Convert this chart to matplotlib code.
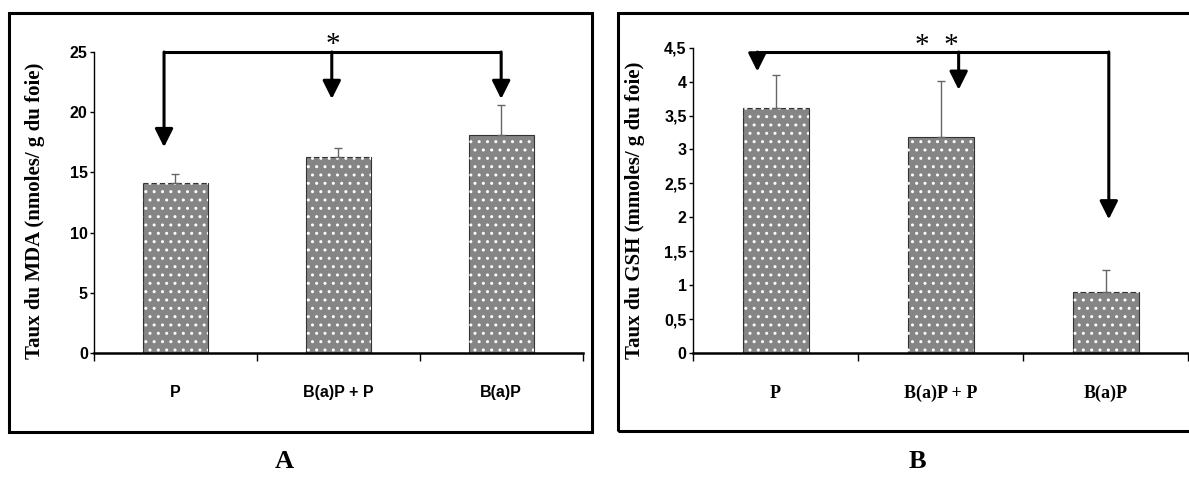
import matplotlib
matplotlib.use("Agg")
import matplotlib.pyplot as plt
import matplotlib.patches as mpatches

# Data
categories = ["P", "B(a)P + P", "B(a)P"]
mda_values = [14.1, 16.3, 18.1]
mda_errors = [0.8, 0.7, 2.5]
gsh_values = [3.61, 3.18, 0.90]
gsh_errors = [0.49, 0.83, 0.33]

mda_ticks = [0, 5, 10, 15, 20, 25]
mda_ticklabels = ["0", "5", "10", "15", "20", "25"]
gsh_ticks = [0, 0.5, 1, 1.5, 2, 2.5, 3, 3.5, 4, 4.5]
gsh_ticklabels = ["0", "0,5", "1", "1,5", "2", "2,5", "3", "3,5", "4", "4,5"]

# significance brackets: arrow x positions, arrow tip heights, bracket level
mda_arrow_x = [-0.07, 0.96, 2.0]
mda_arrow_tip = [17.1, 21.1, 21.1]
mda_bracket_y = 25.0
gsh_arrow_x = [-0.11, 1.11, 2.02]
gsh_arrow_tip = [4.15, 3.88, 1.97]
gsh_bracket_y = 4.436

NARROW = ["Liberation Sans Narrow", "Liberation Sans", "DejaVu Sans"]
SERIF = ["Liberation Serif", "DejaVu Serif"]
BAR_GRAY = "#858585"

W, H = 1189, 480
fig = plt.figure(figsize=(W / 100, H / 100), dpi=100)


def px_axes(left, right, top, bottom):
    return fig.add_axes([left / W, 1 - bottom / H, (right - left) / W, (bottom - top) / H])


def draw_panel(ax, values, errors, ymax, ticks, ticklabels, ylabel, xfont, xsize,
               arrow_x, arrow_tip, bracket_y, star, star_xy, label_xy):
    x = list(range(len(categories)))
    ax.bar(x, values, width=0.4, color=BAR_GRAY, edgecolor="#333333",
           linewidth=0.8, zorder=2)
    ax.bar(x, values, width=0.4, color="none", edgecolor="white",
           hatch="..", linewidth=0, zorder=3)
    ax.errorbar(x, values, yerr=[[0] * len(errors), errors], fmt="none",
                ecolor="#666666", elinewidth=1, capsize=3, capthick=1, zorder=4)

    ax.set_xlim(-0.5, 2.5)
    ax.set_ylim(0, ymax)
    for s in ("top", "right"):
        ax.spines[s].set_visible(False)
    ax.spines["bottom"].set_linewidth(1.8)
    ax.spines["left"].set_linewidth(1.0)

    ax.set_yticks(ticks)
    ax.set_yticklabels(ticklabels, fontfamily=NARROW, fontweight="bold", fontsize=11.5)
    ax.tick_params(axis="y", length=3, width=1, pad=1.5)

    ax.set_xticks(x)
    ax.set_xticklabels(categories, fontfamily=xfont, fontweight="bold", fontsize=xsize)
    ax.set_xticks([-0.5, 0.5, 1.5, 2.5], minor=True)
    ax.tick_params(axis="x", which="major", length=0, pad=23)
    ax.tick_params(axis="x", which="minor", length=6, width=1, direction="out")

    ax.set_ylabel(ylabel, fontfamily=SERIF, fontweight="bold", fontsize=15)
    ax.yaxis.set_label_coords(*label_xy)

    # significance bracket with arrows
    ax.plot([arrow_x[0], arrow_x[-1]], [bracket_y, bracket_y], color="black",
            lw=2.2, clip_on=False, solid_capstyle="butt", zorder=5)
    for ax_x, tip in zip(arrow_x, arrow_tip):
        ax.annotate("", xy=(ax_x, tip), xytext=(ax_x, bracket_y),
                    arrowprops=dict(arrowstyle="-|>,head_length=1.0,head_width=0.5",
                                    mutation_scale=11, color="black", lw=2.2,
                                    shrinkA=0, shrinkB=0),
                    annotation_clip=False, zorder=5)
    ax.text(star_xy[0], star_xy[1], star, ha="center", va="center",
            fontfamily=SERIF, fontsize=21, zorder=5)


axA = px_axes(94, 582.6, 52, 353)
draw_panel(axA, mda_values, mda_errors, 25, mda_ticks, mda_ticklabels,
           "Taux du MDA (nmoles/ g du foie)", NARROW, 11.5,
           mda_arrow_x, mda_arrow_tip, mda_bracket_y, "*", (0.967, 25.6),
           (-0.100, 0.473))

axB = px_axes(693, 1188, 47.7, 353)
draw_panel(axB, gsh_values, gsh_errors, 4.5, gsh_ticks, gsh_ticklabels,
           "Taux du GSH (mmoles/ g du foie)", SERIF, 13,
           gsh_arrow_x, gsh_arrow_tip, gsh_bracket_y, "*  *", (0.979, 4.53),
           (-0.097, 0.468))

# panel frames
for (l, t, r, b) in [(9, 13, 592, 432), (618, 13, 1196, 431)]:
    fig.patches.append(mpatches.Rectangle((l / W, 1 - b / H), (r - l) / W, (b - t) / H,
                                          transform=fig.transFigure, fill=False,
                                          edgecolor="black", linewidth=2.2))

fig.text(284 / W, 1 - 462 / H, "A", ha="center", va="center",
         fontfamily=SERIF, fontweight="bold", fontsize=19)
fig.text(917 / W, 1 - 462 / H, "B", ha="center", va="center",
         fontfamily=SERIF, fontweight="bold", fontsize=19)

fig.savefig("out.png", dpi=100)
